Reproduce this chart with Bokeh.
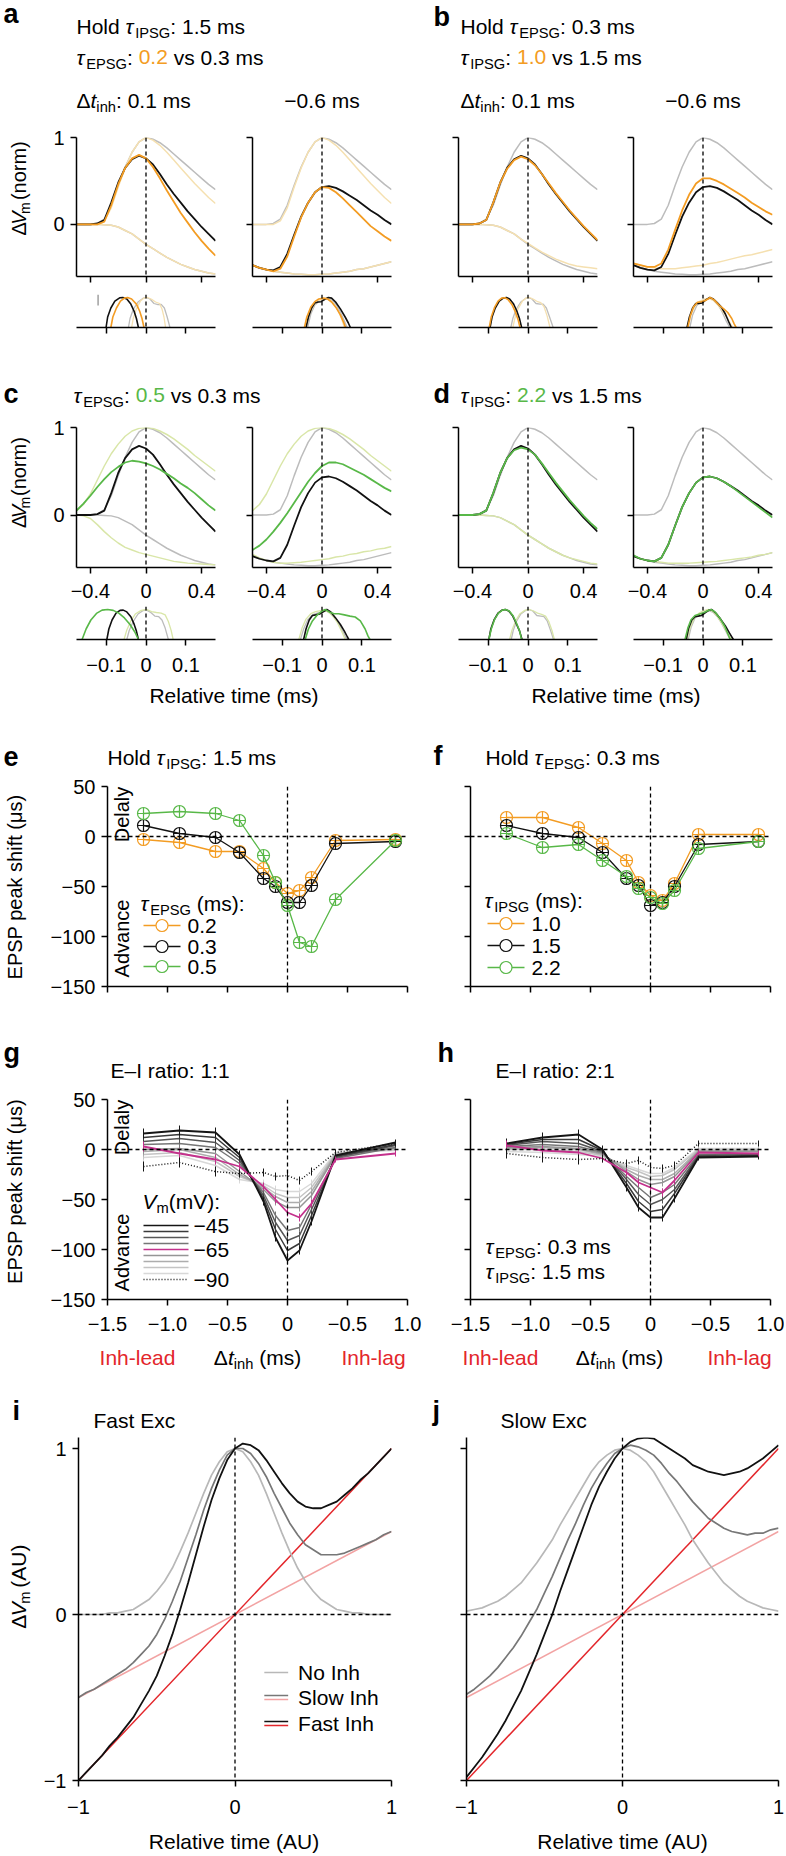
import math
from bokeh.plotting import figure
from bokeh.layouts import row, column
from bokeh.models import Range1d, FixedTicker, Span
from bokeh.core.properties import value
from bokeh.embed import file_html
from bokeh.resources import INLINE

FONT = "Liberation Sans"
TICK_FS = 20
LAB_FS = 21

ORANGE = "#f39c23"
PALE_ORANGE = "#f5e0b0"
GREEN = "#58b848"
PALE_GREEN = "#d9e6a8"
LGRAY = "#bcbcbc"
BLACK = "#111111"
RED = "#e3262b"
PINK = "#f2a3a3"
DGRAY = "#777777"
IGRAY = "#b8b8b8"

# ---------------- panels a-d : traces (relative time, ms) ----------------
T = [-0.5, -0.45, -0.4, -0.35, -0.3, -0.25, -0.2, -0.15, -0.1, -0.05, 0.0,
     0.05, 0.1, 0.15, 0.2, 0.25, 0.3, 0.35, 0.4, 0.45, 0.5]
EPSP_CTRL = [0.00, 0.00, 0.00, 0.01, 0.06, 0.22, 0.45, 0.66, 0.83, 0.95, 1.00, 0.98, 0.94, 0.88, 0.81, 0.74, 0.67, 0.60, 0.53, 0.46, 0.40]
EPSP_FAST = [0.00, 0.00, 0.00, 0.00, 0.04, 0.19, 0.43, 0.65, 0.83, 0.95, 1.00, 0.97, 0.91, 0.83, 0.74, 0.65, 0.56, 0.47, 0.39, 0.31, 0.24]
EPSP_SLOW = [0.05, 0.12, 0.24, 0.40, 0.56, 0.70, 0.81, 0.90, 0.96, 0.99, 1.00, 0.99, 0.96, 0.92, 0.87, 0.81, 0.75, 0.68, 0.62, 0.56, 0.50]
IPSP_NEAR = [0.00, 0.00, 0.00, 0.00, -0.005, -0.01, -0.03, -0.07, -0.11, -0.17, -0.23, -0.28, -0.33, -0.38, -0.42, -0.46, -0.49, -0.52, -0.54, -0.56, -0.57]
IPSP_EARLY = [-0.47, -0.50, -0.52, -0.54, -0.55, -0.56, -0.57, -0.575, -0.58, -0.58, -0.575, -0.57, -0.56, -0.55, -0.54, -0.52, -0.51, -0.49, -0.47, -0.45, -0.43]
BLACK_NEAR = [0.00, 0.00, 0.00, 0.01, 0.05, 0.25, 0.48, 0.65, 0.75, 0.79, 0.76, 0.69, 0.58, 0.46, 0.35, 0.25, 0.15, 0.06, -0.03, -0.11, -0.19]
BLACK_EARLY = [-0.47, -0.50, -0.52, -0.53, -0.49, -0.34, -0.12, 0.09, 0.25, 0.37, 0.43, 0.44, 0.42, 0.38, 0.33, 0.28, 0.22, 0.16, 0.11, 0.05, 0.00]
A_COMB_NEAR = [0.00, 0.00, 0.00, 0.00, 0.03, 0.22, 0.46, 0.65, 0.76, 0.80, 0.76, 0.66, 0.53, 0.39, 0.26, 0.13, 0.02, -0.09, -0.19, -0.28, -0.36]
A_COMB_EARLY = [-0.47, -0.50, -0.52, -0.54, -0.51, -0.37, -0.14, 0.08, 0.25, 0.37, 0.43, 0.42, 0.37, 0.30, 0.22, 0.14, 0.06, -0.02, -0.08, -0.14, -0.19]
B_IPSP_NEAR = [0.00, 0.00, 0.00, 0.00, -0.005, -0.01, -0.03, -0.07, -0.11, -0.17, -0.22, -0.27, -0.32, -0.36, -0.40, -0.43, -0.46, -0.48, -0.49, -0.50, -0.51]
B_IPSP_EARLY = [-0.45, -0.47, -0.49, -0.50, -0.51, -0.51, -0.51, -0.50, -0.49, -0.48, -0.47, -0.45, -0.44, -0.42, -0.40, -0.38, -0.36, -0.35, -0.33, -0.31, -0.29]
B_COMB_NEAR = [0.00, 0.00, 0.00, 0.01, 0.05, 0.25, 0.48, 0.64, 0.74, 0.78, 0.75, 0.68, 0.58, 0.47, 0.36, 0.26, 0.16, 0.07, -0.02, -0.10, -0.18]
B_COMB_EARLY = [-0.45, -0.47, -0.49, -0.49, -0.45, -0.29, -0.06, 0.16, 0.34, 0.47, 0.53, 0.53, 0.50, 0.46, 0.41, 0.36, 0.31, 0.25, 0.20, 0.15, 0.11]
C_IPSP_NEAR = [0.00, -0.01, -0.04, -0.11, -0.19, -0.26, -0.32, -0.37, -0.40, -0.43, -0.45, -0.47, -0.49, -0.51, -0.53, -0.54, -0.55, -0.555, -0.56, -0.565, -0.57]
C_IPSP_EARLY = [-0.45, -0.49, -0.52, -0.54, -0.55, -0.55, -0.545, -0.54, -0.53, -0.52, -0.51, -0.50, -0.48, -0.47, -0.45, -0.44, -0.42, -0.41, -0.39, -0.38, -0.36]
C_COMB_NEAR = [0.05, 0.13, 0.22, 0.32, 0.41, 0.49, 0.55, 0.60, 0.62, 0.61, 0.59, 0.56, 0.52, 0.47, 0.42, 0.36, 0.31, 0.25, 0.18, 0.11, 0.05]
C_COMB_EARLY = [-0.40, -0.35, -0.28, -0.19, -0.09, 0.02, 0.14, 0.26, 0.38, 0.48, 0.56, 0.60, 0.60, 0.58, 0.54, 0.50, 0.46, 0.41, 0.36, 0.31, 0.27]
D_IPSP_NEAR = [0.00, 0.00, 0.00, 0.00, -0.005, -0.01, -0.03, -0.07, -0.11, -0.17, -0.23, -0.28, -0.33, -0.38, -0.42, -0.46, -0.49, -0.51, -0.53, -0.55, -0.56]
D_IPSP_EARLY = [-0.47, -0.50, -0.52, -0.53, -0.54, -0.55, -0.55, -0.55, -0.55, -0.545, -0.54, -0.535, -0.53, -0.52, -0.51, -0.50, -0.49, -0.48, -0.46, -0.45, -0.43]
D_COMB_NEAR = [0.00, 0.00, 0.00, 0.01, 0.05, 0.25, 0.48, 0.65, 0.74, 0.77, 0.75, 0.69, 0.59, 0.48, 0.37, 0.27, 0.17, 0.08, -0.01, -0.09, -0.16]
D_COMB_EARLY = [-0.46, -0.50, -0.52, -0.53, -0.49, -0.34, -0.12, 0.09, 0.25, 0.37, 0.43, 0.44, 0.42, 0.38, 0.33, 0.27, 0.21, 0.15, 0.09, 0.03, -0.03]

# ---------------- peak-time distributions (small panels) ----------------
SA1_K_X = [-0.100, -0.096, -0.088, -0.078, -0.066, -0.058, -0.048, -0.038, -0.030, -0.024, -0.019]
SA1_K_Y = [0.0, 0.35, 0.65, 0.88, 0.99, 1.0, 0.95, 0.78, 0.55, 0.30, 0.0]
SA1_C_X = [-0.088, -0.083, -0.074, -0.064, -0.054, -0.046, -0.036, -0.024, -0.016, -0.010, -0.005]
SA1_C_Y = [0.0, 0.35, 0.65, 0.88, 0.98, 1.0, 0.95, 0.78, 0.55, 0.30, 0.0]
SA1_G_X = [-0.044, -0.040, -0.032, -0.020, -0.008, 0.000, 0.010, 0.020, 0.030, 0.038, 0.046, 0.053, 0.060]
SA1_G_Y = [0.0, 0.3, 0.6, 0.85, 0.97, 1.0, 0.95, 0.80, 0.76, 0.77, 0.65, 0.35, 0.0]
SA1_P_X = [-0.036, -0.032, -0.024, -0.014, -0.004, 0.004, 0.014, 0.024, 0.034, 0.040, 0.045, 0.049]
SA1_P_Y = [0.0, 0.3, 0.62, 0.88, 0.99, 1.0, 0.94, 0.85, 0.80, 0.62, 0.35, 0.0]
SA2_K_X = [-0.040, -0.034, -0.026, -0.018, -0.010, -0.002, 0.008, 0.016, 0.024, 0.034, 0.046, 0.058, 0.066, 0.071]
SA2_K_Y = [0.0, 0.35, 0.65, 0.82, 0.85, 0.86, 0.95, 1.0, 0.98, 0.85, 0.62, 0.35, 0.15, 0.0]
SA2_C_X = [-0.044, -0.038, -0.028, -0.018, -0.008, 0.004, 0.014, 0.024, 0.036, 0.046, 0.054, 0.059]
SA2_C_Y = [0.0, 0.35, 0.68, 0.86, 0.95, 0.98, 0.95, 0.85, 0.65, 0.42, 0.18, 0.0]
SA2_G_X = [-0.036, -0.028, -0.018, -0.008, 0.004, 0.016, 0.026, 0.036, 0.046, 0.056, 0.063]
SA2_G_Y = [0.0, 0.45, 0.75, 0.86, 0.92, 0.96, 0.90, 0.75, 0.52, 0.22, 0.0]
SA2_P_X = [-0.040, -0.032, -0.022, -0.010, 0.002, 0.012, 0.022, 0.032, 0.042, 0.050, 0.056]
SA2_P_Y = [0.0, 0.42, 0.72, 0.88, 0.96, 0.97, 0.90, 0.75, 0.52, 0.25, 0.0]
SB1_K_X = [-0.095, -0.090, -0.082, -0.072, -0.062, -0.054, -0.046, -0.036, -0.028, -0.021, -0.016]
SB1_K_Y = [0.0, 0.35, 0.65, 0.88, 0.98, 1.0, 0.95, 0.78, 0.55, 0.28, 0.0]
SB1_C_X = [-0.097, -0.092, -0.084, -0.075, -0.066, -0.058, -0.050, -0.040, -0.032, -0.025, -0.020]
SB1_C_Y = [0.0, 0.35, 0.66, 0.88, 0.98, 0.99, 0.93, 0.76, 0.53, 0.27, 0.0]
SB1_G_X = [-0.043, -0.038, -0.030, -0.018, -0.006, 0.000, 0.010, 0.020, 0.030, 0.038, 0.046, 0.054, 0.063]
SB1_G_Y = [0.0, 0.3, 0.6, 0.85, 0.97, 1.0, 0.95, 0.80, 0.78, 0.78, 0.65, 0.35, 0.0]
SB1_P_X = [-0.038, -0.033, -0.025, -0.014, -0.004, 0.004, 0.014, 0.024, 0.032, 0.040, 0.048, 0.055]
SB1_P_Y = [0.0, 0.3, 0.62, 0.88, 0.99, 1.0, 0.94, 0.86, 0.83, 0.70, 0.38, 0.0]
SB2_K_X = [-0.040, -0.034, -0.026, -0.018, -0.010, -0.002, 0.008, 0.017, 0.026, 0.036, 0.046, 0.056, 0.064, 0.071]
SB2_K_Y = [0.0, 0.35, 0.65, 0.80, 0.80, 0.82, 0.93, 1.0, 0.95, 0.82, 0.68, 0.45, 0.20, 0.0]
SB2_C_X = [-0.038, -0.032, -0.024, -0.014, -0.004, 0.006, 0.018, 0.028, 0.040, 0.052, 0.062, 0.072, 0.078, 0.083]
SB2_C_Y = [0.0, 0.38, 0.68, 0.84, 0.86, 0.90, 1.0, 0.92, 0.75, 0.62, 0.50, 0.30, 0.12, 0.0]
SB2_G_X = [-0.033, -0.026, -0.016, -0.006, 0.006, 0.017, 0.028, 0.038, 0.048, 0.058, 0.067]
SB2_G_Y = [0.0, 0.42, 0.72, 0.86, 0.92, 0.98, 0.90, 0.75, 0.52, 0.22, 0.0]
SB2_P_X = [-0.038, -0.030, -0.020, -0.008, 0.004, 0.014, 0.026, 0.038, 0.050, 0.062, 0.070, 0.075]
SB2_P_Y = [0.0, 0.42, 0.72, 0.88, 0.95, 0.96, 0.90, 0.74, 0.52, 0.30, 0.10, 0.0]
SC1_K_X = [-0.098, -0.093, -0.085, -0.075, -0.065, -0.057, -0.048, -0.038, -0.030, -0.024, -0.019]
SC1_K_Y = [0.0, 0.35, 0.65, 0.88, 0.97, 0.98, 0.92, 0.76, 0.52, 0.28, 0.0]
SC1_C_X = [-0.160, -0.150, -0.138, -0.124, -0.110, -0.096, -0.082, -0.068, -0.054, -0.040, -0.028, -0.019]
SC1_C_Y = [0.0, 0.35, 0.65, 0.87, 0.98, 1.0, 0.97, 0.88, 0.72, 0.50, 0.25, 0.0]
SC1_G_X = [-0.048, -0.042, -0.032, -0.020, -0.008, 0.002, 0.012, 0.022, 0.032, 0.040, 0.048, 0.056]
SC1_G_Y = [0.0, 0.3, 0.6, 0.85, 0.96, 0.98, 0.90, 0.78, 0.76, 0.65, 0.38, 0.0]
SC1_P_X = [-0.055, -0.048, -0.038, -0.026, -0.012, 0.002, 0.014, 0.026, 0.038, 0.048, 0.056, 0.063, 0.068]
SC1_P_Y = [0.0, 0.32, 0.62, 0.86, 0.97, 1.0, 0.93, 0.90, 0.88, 0.82, 0.60, 0.30, 0.0]
SC2_K_X = [-0.046, -0.040, -0.032, -0.024, -0.016, -0.006, 0.004, 0.012, 0.022, 0.034, 0.046, 0.056, 0.063, 0.067]
SC2_K_Y = [0.0, 0.35, 0.65, 0.80, 0.82, 0.85, 0.93, 1.0, 0.92, 0.72, 0.50, 0.28, 0.10, 0.0]
SC2_C_X = [-0.042, -0.034, -0.024, -0.012, 0.000, 0.008, 0.018, 0.030, 0.042, 0.056, 0.070, 0.083, 0.096, 0.108, 0.115, 0.120]
SC2_C_Y = [0.0, 0.35, 0.62, 0.82, 0.95, 1.0, 0.92, 0.86, 0.86, 0.82, 0.78, 0.75, 0.62, 0.35, 0.12, 0.0]
SC2_G_X = [-0.054, -0.046, -0.036, -0.024, -0.012, 0.000, 0.010, 0.020, 0.030, 0.042, 0.054, 0.062]
SC2_G_Y = [0.0, 0.35, 0.65, 0.82, 0.88, 0.92, 0.95, 0.88, 0.75, 0.52, 0.22, 0.0]
SC2_P_X = [-0.058, -0.050, -0.040, -0.028, -0.016, -0.004, 0.006, 0.016, 0.026, 0.038, 0.050, 0.058]
SC2_P_Y = [0.0, 0.38, 0.68, 0.86, 0.93, 0.96, 0.97, 0.92, 0.80, 0.58, 0.25, 0.0]
SD1_K_X = [-0.098, -0.093, -0.085, -0.075, -0.065, -0.057, -0.048, -0.038, -0.030, -0.021, -0.015]
SD1_K_Y = [0.0, 0.35, 0.65, 0.88, 0.98, 1.0, 0.95, 0.78, 0.55, 0.28, 0.0]
SD1_C_X = [-0.098, -0.092, -0.084, -0.074, -0.064, -0.056, -0.047, -0.037, -0.029, -0.021, -0.016]
SD1_C_Y = [0.0, 0.35, 0.66, 0.88, 0.98, 1.0, 0.95, 0.78, 0.55, 0.28, 0.0]
SD1_G_X = [-0.042, -0.037, -0.029, -0.018, -0.006, 0.002, 0.012, 0.022, 0.032, 0.040, 0.048, 0.056, 0.064]
SD1_G_Y = [0.0, 0.3, 0.6, 0.85, 0.97, 1.0, 0.95, 0.80, 0.78, 0.76, 0.62, 0.32, 0.0]
SD1_P_X = [-0.046, -0.040, -0.031, -0.020, -0.008, 0.004, 0.014, 0.024, 0.034, 0.044, 0.052, 0.060, 0.066]
SD1_P_Y = [0.0, 0.32, 0.62, 0.86, 0.97, 1.0, 0.95, 0.88, 0.84, 0.78, 0.60, 0.30, 0.0]
SD2_K_X = [-0.042, -0.036, -0.028, -0.020, -0.012, -0.004, 0.006, 0.015, 0.022, 0.032, 0.044, 0.056, 0.066, 0.076]
SD2_K_Y = [0.0, 0.38, 0.65, 0.76, 0.78, 0.80, 0.90, 0.98, 1.0, 0.88, 0.68, 0.45, 0.22, 0.0]
SD2_C_X = [-0.045, -0.038, -0.030, -0.020, -0.010, 0.000, 0.010, 0.020, 0.030, 0.042, 0.054, 0.062, 0.068]
SD2_C_Y = [0.0, 0.38, 0.66, 0.80, 0.84, 0.88, 0.95, 1.0, 0.92, 0.72, 0.45, 0.20, 0.0]
SD2_G_X = [-0.037, -0.030, -0.020, -0.008, 0.004, 0.016, 0.026, 0.036, 0.046, 0.056, 0.064, 0.070]
SD2_G_Y = [0.0, 0.40, 0.72, 0.86, 0.92, 0.95, 0.90, 0.76, 0.55, 0.30, 0.10, 0.0]
SD2_P_X = [-0.040, -0.032, -0.022, -0.010, 0.002, 0.014, 0.024, 0.034, 0.044, 0.054, 0.064, 0.072]
SD2_P_Y = [0.0, 0.40, 0.72, 0.88, 0.96, 1.0, 0.94, 0.80, 0.60, 0.38, 0.15, 0.0]
SCALEBAR_X = [-0.12, -0.12]
SCALEBAR_Y = [0.73, 1.1]

# ---------------- panels e-h : peak shift (us) vs delta t_inh (ms) ----------------
DT = [-1.2, -0.9, -0.6, -0.4, -0.2, -0.1, 0.0, 0.1, 0.2, 0.4, 0.9]
E_02 = [-3, -6, -15, -15, -32, -46, -57, -54, -41, -4, -3]
E_03 = [11, 3, -1, -16, -42, -50, -66, -66, -49, -7, -5]
E_05 = [23, 25, 23, 16, -19, -46, -69, -106, -110, -63, -4]
F_10 = [19, 19, 9, -7, -24, -46, -59, -64, -47, 2, 2]
F_15 = [11, 3, -1, -16, -42, -49, -69, -66, -50, -8, -5]
F_22 = [3, -11, -8, -24, -40, -52, -61, -67, -54, -12, -5]
E_LABELS = ["0.2", "0.3", "0.5"]
F_LABELS = ["1.0", "1.5", "2.2"]

VM_LEVELS = ["\u221245", "\u221250", "\u221255", "\u221260", "\u221265", "\u221270", "\u221275", "\u221280", "\u221285", "\u221290"]
VM_COLORS = ["#151515", "#3a3a3a", "#575757", "#767676", "#c4318c", "#959595", "#adadad", "#c4c4c4", "#d8d8d8", "#151515"]
G_45 = [16, 19, 17, -5, -52, -88, -111, -101, -72, -6, 7]
G_50 = [12, 15, 12, -8, -49, -80, -101, -94, -66, -7, 5]
G_55 = [8, 11, 7, -11, -46, -73, -91, -86, -60, -8, 4]
G_60 = [5, 6, 2, -14, -43, -66, -81, -78, -55, -9, 2]
G_65 = [3, -4, -10, -17, -37, -50, -63, -68, -54, -10, -4]
G_70 = [0, 1, -4, -22, -40, -52, -58, -58, -46, -6, 2]
G_75 = [-2, 0, -8, -25, -38, -47, -53, -53, -42, -5, 1]
G_80 = [-5, -3, -12, -27, -36, -44, -48, -48, -38, -4, 0]
G_85 = [-8, -6, -16, -30, -34, -40, -42, -42, -34, -3, -1]
G_90 = [-17, -13, -22, -24, -23, -27, -26, -31, -22, -3, 6]
H_45 = [6, 12, 15, 0, -38, -58, -68, -68, -49, -8, -7]
H_50 = [5, 10, 10, -1, -34, -52, -62, -60, -44, -7, -6]
H_55 = [4, 8, 6, -2, -30, -45, -55, -50, -40, -6, -5]
H_60 = [3, 5, 3, -3, -27, -38, -48, -43, -35, -5, -4]
H_65 = [4, -1, -3, -9, -23, -33, -38, -43, -31, -3, -4]
H_70 = [2, 3, 1, -4, -22, -30, -35, -33, -27, -2, -2]
H_75 = [1, 2, 0, -5, -20, -26, -30, -30, -24, -1, -1]
H_80 = [0, 0, -2, -6, -18, -22, -27, -26, -20, 0, 0]
H_85 = [-2, -3, -5, -7, -16, -20, -24, -24, -18, 1, 1]
H_90 = [-4, -8, -10, -9, -14, -11, -18, -19, -16, 6, 6]
ERR = [5, 5, 5, 4, 4, 4, 4, 4, 4, 3, 3]
DT_TICKS = [-1.5, -1.0, -0.5, 0, 0.5, 1.0]
DT_TICK_LABELS = ["\u22121.5", "\u22121.0", "\u22120.5", "0", "\u22120.5", "1.0"]
SHIFT_TICKS = [-150, -100, -50, 0, 50]
SHIFT_TICK_LABELS = ["\u2212150", "\u2212100", "\u221250", "0", "50"]

# ---------------- panels i-j : model (AU) ----------------
XI = [-1.0, -0.95, -0.9, -0.85, -0.8, -0.75, -0.7, -0.65, -0.6, -0.55, -0.5, -0.45, -0.4, -0.35, -0.3,
      -0.25, -0.2, -0.15, -0.1, -0.05, 0.0, 0.05, 0.1, 0.15, 0.2, 0.25, 0.3, 0.35, 0.4, 0.45, 0.5,
      0.55, 0.6, 0.65, 0.7, 0.75, 0.8, 0.85, 0.9, 0.95, 1.0]
NOINH_I = [0.00, 0.00, 0.00, 0.00, 0.01, 0.01, 0.02, 0.03, 0.06, 0.09, 0.14, 0.20, 0.28, 0.38, 0.49, 0.61, 0.73, 0.84, 0.92, 0.98, 1.00,
           0.98, 0.92, 0.84, 0.73, 0.61, 0.49, 0.38, 0.28, 0.20, 0.14, 0.09, 0.06, 0.03, 0.02, 0.01, 0.01, 0.00, 0.00, 0.00, 0.00]
SLOW_I = [-0.50, -0.47, -0.45, -0.42, -0.39, -0.36, -0.33, -0.29, -0.24, -0.19, -0.12, -0.03, 0.08, 0.20, 0.34, 0.48, 0.63, 0.76, 0.87, 0.96, 1.00,
          1.00, 0.97, 0.91, 0.83, 0.73, 0.64, 0.55, 0.48, 0.42, 0.39, 0.36, 0.36, 0.36, 0.37, 0.39, 0.41, 0.43, 0.45, 0.48, 0.50]
FAST_I = [-1.00, -0.95, -0.90, -0.85, -0.79, -0.74, -0.68, -0.62, -0.54, -0.46, -0.37, -0.25, -0.12, 0.03, 0.19, 0.36, 0.53, 0.69, 0.82, 0.93, 1.00,
          1.03, 1.02, 0.99, 0.93, 0.86, 0.79, 0.73, 0.68, 0.65, 0.64, 0.64, 0.66, 0.68, 0.72, 0.76, 0.81, 0.85, 0.90, 0.95, 1.00]
NOINH_J = [0.02, 0.03, 0.04, 0.06, 0.08, 0.11, 0.15, 0.19, 0.25, 0.31, 0.38, 0.45, 0.54, 0.62, 0.70, 0.78, 0.86, 0.92, 0.96, 0.99, 1.00,
           0.99, 0.96, 0.92, 0.86, 0.78, 0.70, 0.62, 0.54, 0.45, 0.38, 0.31, 0.25, 0.19, 0.15, 0.11, 0.08, 0.06, 0.04, 0.03, 0.02]
SLOW_J = [-0.48, -0.45, -0.41, -0.37, -0.32, -0.26, -0.20, -0.13, -0.05, 0.03, 0.13, 0.23, 0.34, 0.45, 0.55, 0.66, 0.76, 0.84, 0.91, 0.97, 1.00,
          1.02, 1.01, 0.99, 0.96, 0.91, 0.85, 0.80, 0.74, 0.68, 0.63, 0.58, 0.55, 0.52, 0.50, 0.49, 0.48, 0.49, 0.49, 0.51, 0.52]
FAST_J = [-0.98, -0.92, -0.86, -0.79, -0.72, -0.64, -0.55, -0.46, -0.35, -0.24, -0.12, 0.00, 0.14, 0.27, 0.40, 0.53, 0.66, 0.77, 0.86, 0.94, 1.00,
          1.04, 1.06, 1.065, 1.06, 1.03, 1.00, 0.97, 0.94, 0.90, 0.88, 0.86, 0.85, 0.84, 0.85, 0.86, 0.88, 0.91, 0.94, 0.98, 1.02]
INH_X = [-1.0, 1.0]
SLOW_INH = [-0.5, 0.5]
FAST_INH = [-1.0, 1.0]
AU_TICKS = [-1, 0, 1]
AU_TICK_LABELS = ["\u22121", "0", "1"]
LEG_I = ["No Inh", "Slow Inh", "Fast Inh"]

# ---------------- helpers ----------------
W = {' ': 278, '(': 333, ')': 333, '-': 333, '.': 278, ':': 278, ',': 278,
     'A': 667, 'B': 667, 'C': 722, 'D': 722, 'E': 667, 'F': 611, 'G': 778, 'H': 722, 'I': 278, 'J': 500,
     'K': 667, 'L': 556, 'M': 833, 'N': 722, 'O': 778, 'P': 667, 'Q': 778, 'R': 722, 'S': 667, 'T': 611,
     'U': 722, 'V': 667, 'W': 944, 'X': 667, 'Y': 667, 'Z': 611,
     'a': 556, 'b': 556, 'c': 500, 'd': 556, 'e': 556, 'f': 278, 'g': 556, 'h': 556, 'i': 222, 'j': 222,
     'k': 500, 'l': 222, 'm': 833, 'n': 556, 'o': 556, 'p': 556, 'q': 556, 'r': 333, 's': 500, 't': 278,
     'u': 556, 'v': 500, 'w': 722, 'x': 500, 'y': 500, 'z': 500,
     '\u2212': 584, '\u2013': 556, '\u0394': 668, '\u03c4': 460, '\u03bc': 576}

FIXED = dict(sizing_mode="fixed")
ROT = math.pi / 2


def tw(s, fs):
    return sum(W.get(ch, 556) for ch in s) * fs / 1000.0


def P(s, kind="n", col=None):
    return (s, kind, col)


def canvas(x0, x1, y0, y1):
    p = figure(width=x1 - x0, height=y1 - y0, x_range=Range1d(x0, x1), y_range=Range1d(-y1, -y0),
               output_backend="svg", toolbar_location=None, title=None,
               x_axis_location=None, y_axis_location=None,
               min_border_left=0, min_border_right=0, min_border_top=0, min_border_bottom=0, **FIXED)
    p.outline_line_color = None
    p.grid.visible = False
    return p, (lambda r: r), (lambda r: -r)


def pfig(x0, x1, y0, y1, fx0, fx1, fy0, fy1, xr, yr, xaxis=True, yaxis=True):
    p = figure(width=x1 - x0, height=y1 - y0, x_range=Range1d(*xr), y_range=Range1d(*yr),
               output_backend="svg", toolbar_location=None, title=None,
               x_axis_location="below" if xaxis else None,
               y_axis_location="left" if yaxis else None,
               min_border_left=fx0 - x0, min_border_right=x1 - fx1,
               min_border_top=fy0 - y0, min_border_bottom=y1 - fy1, **FIXED)
    p.outline_line_color = None
    p.grid.visible = False

    def mx(r):
        return xr[0] + (r - fx0) / (fx1 - fx0) * (xr[1] - xr[0])

    def my(r):
        return yr[1] - (r - fy0) / (fy1 - fy0) * (yr[1] - yr[0])
    return p, mx, my


def put(p, mx, my, rx, ry, s, fs=LAB_FS, color="black", align="left", base=True, angle=0.0, style="normal"):
    # rx, ry are page pixels; with base=True, ry (or rx when rotated) is the text baseline
    if base:
        if angle == 0:
            ry = ry - 0.35 * fs
        else:
            rx = rx - 0.35 * fs
    p.text(x=[mx(rx)], y=[my(ry)], text=[s], angle=angle, text_font=value(FONT),
           text_font_size=value("%.1fpx" % fs), text_color=color, text_align=align,
           text_baseline="middle", text_font_style=style)


def rich(p, mx, my, x, y, pieces, fs=LAB_FS, align="left", angle=0.0):
    sizes = [fs * 0.7 if k == "sub" else fs for (s, k, c) in pieces]
    total = sum(tw(s, f) for (s, k, c), f in zip(pieces, sizes))
    pos = {"left": 0.0, "center": -total / 2.0, "right": -total}[align]
    for (s, k, c), f in zip(pieces, sizes):
        lead = len(s) - len(s.lstrip(" "))
        core = s.strip(" ")
        start = pos + tw(" " * lead, f)
        drop = fs * 0.24 if k == "sub" else 0.0
        if angle == 0:
            rx, ry = x + start, y + drop
        else:
            rx, ry = x + drop, y - start
        style = {"it": "italic", "b": "bold"}.get(k, "normal")
        if core:
            put(p, mx, my, rx, ry, core, fs=f, color=c or "black", angle=angle, style=style)
        pos += tw(s, f)


def style_axis(ax, ticks, labels=None, standoff=11):
    ax.ticker = FixedTicker(ticks=ticks)
    ax.axis_line_width = 1.5
    ax.axis_line_color = "black"
    ax.major_tick_line_width = 1.5
    ax.major_tick_line_color = "black"
    ax.major_tick_out = 6
    ax.major_tick_in = 0
    ax.minor_tick_line_color = None
    ax.major_label_text_font = FONT
    if labels is None:
        ax.major_label_text_font_size = "0px"
        ax.major_label_standoff = 0
        ax.major_label_text_color = None
    else:
        ax.major_label_text_font_size = "%dpx" % TICK_FS
        ax.major_label_standoff = standoff
        ax.major_label_text_color = "black"
        ax.major_label_overrides = dict(zip(ticks, labels))


def vdash(p):
    p.add_layout(Span(location=0, dimension="height", line_color="black", line_dash="4 3", line_width=1.3))


def hdash(p):
    p.add_layout(Span(location=0, dimension="width", line_color="black", line_dash="4 3", line_width=1.3))


def main_panel(x0, x1, fx0, fx1, y0, y1, fy0, fy1, light, heavy, ylab):
    p, mx, my = pfig(x0, x1, y0, y1, fx0, fx1, fy0, fy1, (-0.5, 0.5), (-0.6, 1.0))
    style_axis(p.xaxis, [-0.4, 0, 0.4], ["\u22120.4", "0", "0.4"] if ylab in ("c", "d") else None, standoff=10)
    style_axis(p.yaxis, [0, 1], ["0", "1"] if ylab in ("a", "c") else None, standoff=6)
    for ys, col in light:
        p.line(T, ys, line_color=col, line_width=1.5)
    vdash(p)
    for ys, col in heavy:
        p.line(T, ys, line_color=col, line_width=1.8)
    return p


def sub_panel(x0, x1, fx0, fx1, y0, y1, fy0, fy1, domes, labels):
    p, mx, my = pfig(x0, x1, y0, y1, fx0, fx1, fy0, fy1, (-0.174, 0.174), (0, 1.1), yaxis=False)
    style_axis(p.xaxis, [-0.1, 0, 0.1], ["\u22120.1", "0", "0.1"] if labels else None, standoff=12)
    vdash(p)
    for xs, ys, col, lw in domes:
        p.line(xs, ys, line_color=col, line_width=lw)
    return p


def domes(gx, gy, px, py, cx, cy, kx, ky, pale, col):
    return [(gx, gy, LGRAY, 1.3), (px, py, pale, 1.3), (kx, ky, BLACK, 1.6), (cx, cy, col, 1.6)]


def hrow(*kids):
    return row(*kids, spacing=0, **FIXED)


XR = 784  # right edge of the layout
A_TOP = 122   # top of the a/b trace strip
C_TOP = 413   # top of the c/d trace strip

# ---------------- strip 1 : a/b headers ----------------
c1, m1x, m1y = canvas(0, XR, 0, A_TOP)
put(c1, m1x, m1y, 3, 23, "a", fs=27, style="bold")
rich(c1, m1x, m1y, 76, 33, [P("Hold "), P("\u03c4", "it"), P("IPSG", "sub"), P(": 1.5 ms")])
rich(c1, m1x, m1y, 76, 64, [P("\u03c4", "it"), P("EPSG", "sub"), P(": "), P("0.2", "n", ORANGE), P(" vs 0.3 ms")])
rich(c1, m1x, m1y, 76, 107, [P("\u0394"), P("t", "it"), P("inh", "sub"), P(": 0.1 ms")])
rich(c1, m1x, m1y, 321.5, 107, [P("\u22120.6 ms")], align="center")
put(c1, m1x, m1y, 433, 26, "b", fs=27, style="bold")
rich(c1, m1x, m1y, 460, 33, [P("Hold "), P("\u03c4", "it"), P("EPSG", "sub"), P(": 0.3 ms")])
rich(c1, m1x, m1y, 460, 64, [P("\u03c4", "it"), P("IPSG", "sub"), P(": "), P("1.0", "n", ORANGE), P(" vs 1.5 ms")])
rich(c1, m1x, m1y, 460, 107, [P("\u0394"), P("t", "it"), P("inh", "sub"), P(": 0.1 ms")])
rich(c1, m1x, m1y, 702.5, 107, [P("\u22120.6 ms")], align="center")

# ---------------- strip 2 : a/b main ----------------
yl2, q2x, q2y = canvas(0, 40, A_TOP, 294)
rich(yl2, q2x, q2y, 25, 192, [P("\u0394"), P("V", "it"), P("m", "sub"), P(" (norm)")], fs=20, align="center", angle=ROT)
pa1 = main_panel(40, 235, 76, 215, A_TOP, 294, 137, 276,
                 [(EPSP_CTRL, LGRAY), (EPSP_FAST, PALE_ORANGE), (IPSP_NEAR, LGRAY), (IPSP_NEAR, PALE_ORANGE)],
                 [(BLACK_NEAR, BLACK), (A_COMB_NEAR, ORANGE)], "a")
pa2 = main_panel(235, 400, 252, 391, A_TOP, 294, 137, 276,
                 [(EPSP_CTRL, LGRAY), (EPSP_FAST, PALE_ORANGE), (IPSP_EARLY, LGRAY), (IPSP_EARLY, PALE_ORANGE)],
                 [(BLACK_EARLY, BLACK), (A_COMB_EARLY, ORANGE)], None)
pb1 = main_panel(400, 615, 458, 597, A_TOP, 294, 137, 276,
                 [(EPSP_CTRL, LGRAY), (IPSP_NEAR, LGRAY), (B_IPSP_NEAR, PALE_ORANGE)],
                 [(BLACK_NEAR, BLACK), (B_COMB_NEAR, ORANGE)], None)
pb2 = main_panel(615, XR, 633, 772, A_TOP, 294, 137, 276,
                 [(EPSP_CTRL, LGRAY), (IPSP_EARLY, LGRAY), (B_IPSP_EARLY, PALE_ORANGE)],
                 [(BLACK_EARLY, BLACK), (B_COMB_EARLY, ORANGE)], None)
s2 = hrow(yl2, pa1, pa2, pb1, pb2)

# ---------------- strip 3 : a/b peak distributions ----------------
sa1 = sub_panel(0, 235, 76, 215, 294, 345, 294, 327,
                domes(SA1_G_X, SA1_G_Y, SA1_P_X, SA1_P_Y, SA1_C_X, SA1_C_Y, SA1_K_X, SA1_K_Y, PALE_ORANGE, ORANGE), False)
sa1.line(SCALEBAR_X, SCALEBAR_Y, line_color="#888888", line_width=1.2)
sa2 = sub_panel(235, 400, 252, 391, 294, 345, 294, 327,
                domes(SA2_G_X, SA2_G_Y, SA2_P_X, SA2_P_Y, SA2_C_X, SA2_C_Y, SA2_K_X, SA2_K_Y, PALE_ORANGE, ORANGE), False)
sb1 = sub_panel(400, 615, 458, 597, 294, 345, 294, 327,
                domes(SB1_G_X, SB1_G_Y, SB1_P_X, SB1_P_Y, SB1_C_X, SB1_C_Y, SB1_K_X, SB1_K_Y, PALE_ORANGE, ORANGE), False)
sb2 = sub_panel(615, XR, 633, 772, 294, 345, 294, 327,
                domes(SB2_G_X, SB2_G_Y, SB2_P_X, SB2_P_Y, SB2_C_X, SB2_C_Y, SB2_K_X, SB2_K_Y, PALE_ORANGE, ORANGE), False)
s3 = hrow(sa1, sa2, sb1, sb2)

# ---------------- strip 4 : c/d headers ----------------
c4, m4x, m4y = canvas(0, XR, 345, C_TOP)
put(c4, m4x, m4y, 3, 403, "c", fs=27, style="bold")
rich(c4, m4x, m4y, 73, 402, [P("\u03c4", "it"), P("EPSG", "sub"), P(": "), P("0.5", "n", GREEN), P(" vs 0.3 ms")])
put(c4, m4x, m4y, 433, 403, "d", fs=27, style="bold")
rich(c4, m4x, m4y, 460, 402, [P("\u03c4", "it"), P("IPSG", "sub"), P(": "), P("2.2", "n", GREEN), P(" vs 1.5 ms")])

# ---------------- strip 5 : c/d main ----------------
yl5, q5x, q5y = canvas(0, 40, C_TOP, 606)
rich(yl5, q5x, q5y, 25, 500, [P("\u0394"), P("V", "it"), P("m", "sub"), P(" (norm)")], fs=20, align="center", angle=ROT)
pc1 = main_panel(40, 235, 76, 215, C_TOP, 606, 427, 567,
                 [(EPSP_CTRL, LGRAY), (EPSP_SLOW, PALE_GREEN), (IPSP_NEAR, LGRAY), (C_IPSP_NEAR, PALE_GREEN)],
                 [(BLACK_NEAR, BLACK), (C_COMB_NEAR, GREEN)], "c")
pc2 = main_panel(235, 400, 252, 391, C_TOP, 606, 427, 567,
                 [(EPSP_CTRL, LGRAY), (EPSP_SLOW, PALE_GREEN), (IPSP_EARLY, LGRAY), (C_IPSP_EARLY, PALE_GREEN)],
                 [(BLACK_EARLY, BLACK), (C_COMB_EARLY, GREEN)], "d")
pd1 = main_panel(400, 615, 458, 597, C_TOP, 606, 427, 567,
                 [(EPSP_CTRL, LGRAY), (IPSP_NEAR, LGRAY), (D_IPSP_NEAR, PALE_GREEN)],
                 [(BLACK_NEAR, BLACK), (D_COMB_NEAR, GREEN)], "d")
pd2 = main_panel(615, XR, 633, 772, C_TOP, 606, 427, 567,
                 [(EPSP_CTRL, LGRAY), (IPSP_EARLY, LGRAY), (D_IPSP_EARLY, PALE_GREEN)],
                 [(BLACK_EARLY, BLACK), (D_COMB_EARLY, GREEN)], "d")
s5 = hrow(yl5, pc1, pc2, pd1, pd2)

# ---------------- strip 6 : c/d peak distributions ----------------
sc1 = sub_panel(0, 235, 76, 215, 606, 680, 606, 639,
                domes(SC1_G_X, SC1_G_Y, SC1_P_X, SC1_P_Y, SC1_C_X, SC1_C_Y, SC1_K_X, SC1_K_Y, PALE_GREEN, GREEN), True)
sc2 = sub_panel(235, 400, 252, 391, 606, 680, 606, 639,
                domes(SC2_G_X, SC2_G_Y, SC2_P_X, SC2_P_Y, SC2_C_X, SC2_C_Y, SC2_K_X, SC2_K_Y, PALE_GREEN, GREEN), True)
sd1 = sub_panel(400, 615, 458, 597, 606, 680, 606, 639,
                domes(SD1_G_X, SD1_G_Y, SD1_P_X, SD1_P_Y, SD1_C_X, SD1_C_Y, SD1_K_X, SD1_K_Y, PALE_GREEN, GREEN), True)
sd2 = sub_panel(615, XR, 633, 772, 606, 680, 606, 639,
                domes(SD2_G_X, SD2_G_Y, SD2_P_X, SD2_P_Y, SD2_C_X, SD2_C_Y, SD2_K_X, SD2_K_Y, PALE_GREEN, GREEN), True)
s6 = hrow(sc1, sc2, sd1, sd2)

# ---------------- strip 7 : x labels + e/f headers ----------------
c7, m7x, m7y = canvas(0, XR, 680, 775)
put(c7, m7x, m7y, 233.5, 702, "Relative time (ms)", align="center")
put(c7, m7x, m7y, 615.5, 702, "Relative time (ms)", align="center")
put(c7, m7x, m7y, 3, 765, "e", fs=27, style="bold")
rich(c7, m7x, m7y, 107, 764, [P("Hold "), P("\u03c4", "it"), P("IPSG", "sub"), P(": 1.5 ms")])
put(c7, m7x, m7y, 433, 765, "f", fs=27, style="bold")
rich(c7, m7x, m7y, 485, 764, [P("Hold "), P("\u03c4", "it"), P("EPSG", "sub"), P(": 0.3 ms")])


def ef_panel(x0, x1, fx0, fx1, series, ylab, leg_title, leg_labels, lx, ty, rows_y):
    p, mx, my = pfig(x0, x1, 775, 1000, fx0, fx1, 786, 986, (-1.5, 1.0), (-150, 50))
    style_axis(p.xaxis, DT_TICKS)
    style_axis(p.yaxis, SHIFT_TICKS, SHIFT_TICK_LABELS if ylab else None, standoff=6)
    vdash(p)
    hdash(p)
    for ys, col in series:
        p.line(DT, ys, line_color=col, line_width=1.3)
        p.scatter(DT, ys, marker="circle_cross", size=12, line_color=col, fill_color=None, line_width=1.2)
    if ylab:
        put(p, mx, my, 121, 814, "Delaly", fs=20, align="center", base=False, angle=ROT)
        put(p, mx, my, 121, 938, "Advance", fs=20, align="center", base=False, angle=ROT)
    rich(p, mx, my, lx - 3, ty, leg_title)
    for lab, (ys, col), yc in zip(leg_labels, series, rows_y):
        yy = my(yc)
        p.line([mx(lx), mx(lx + 37)], [yy, yy], line_color=col, line_width=1.3)
        p.scatter([mx(lx + 18.5)], [yy], marker="circle", size=12, line_color=col, fill_color="white", line_width=1.2)
        put(p, mx, my, lx + 44, yc, lab, fs=LAB_FS, base=False)
    return p


# ---------------- strip 8 : e/f ----------------
yl8, q8x, q8y = canvas(0, 40, 775, 1000)
put(yl8, q8x, q8y, 14, 888, "EPSP peak shift (\u03bcs)", fs=20, align="center", base=False, angle=ROT)
pe = ef_panel(40, 424, 107, 407, [(E_02, ORANGE), (E_03, BLACK), (E_05, GREEN)], True,
              [P("\u03c4", "it"), P("EPSG", "sub"), P(" (ms):")], E_LABELS, 143, 910, [925, 946, 966])
pf = ef_panel(424, XR, 470, 770, [(F_10, ORANGE), (F_15, BLACK), (F_22, GREEN)], False,
              [P("\u03c4", "it"), P("IPSG", "sub"), P(" (ms):")], F_LABELS, 487, 907, [923, 945, 967])
s8 = hrow(yl8, pe, pf)

# ---------------- strip 9 : g/h headers ----------------
c9, m9x, m9y = canvas(0, XR, 1000, 1090)
put(c9, m9x, m9y, 3, 1062, "g", fs=27, style="bold")
put(c9, m9x, m9y, 110, 1077, "E\u2013I ratio: 1:1")
put(c9, m9x, m9y, 437, 1062, "h", fs=27, style="bold")
put(c9, m9x, m9y, 495, 1077, "E\u2013I ratio: 2:1")


def gh_panel(x0, x1, fx0, fx1, series, ylab):
    p, mx, my = pfig(x0, x1, 1090, 1340, fx0, fx1, 1099, 1299, (-1.5, 1.0), (-150, 50))
    style_axis(p.xaxis, DT_TICKS, DT_TICK_LABELS, standoff=11)
    style_axis(p.yaxis, SHIFT_TICKS, SHIFT_TICK_LABELS if ylab else None, standoff=6)
    vdash(p)
    hdash(p)
    for idx in [8, 7, 6, 5, 3, 2, 1, 0, 4, 9]:
        ys = series[idx]
        col = VM_COLORS[idx]
        dash = "1 2" if idx == 9 else "solid"
        lw = 1.8 if idx in (0, 4) else 1.5
        p.line(DT, ys, line_color=col, line_width=lw, line_dash=dash)
        p.segment(x0=DT, y0=[v - e for v, e in zip(ys, ERR)], x1=DT, y1=[v + e for v, e in zip(ys, ERR)],
                  line_color=col, line_width=1.0)
    return p, mx, my


# ---------------- strip 10 : g/h ----------------
yl10, q10x, q10y = canvas(0, 40, 1090, 1340)
put(yl10, q10x, q10y, 14, 1205, "EPSP peak shift (\u03bcs)", fs=20, align="center", base=False, angle=ROT)
pg, gmx, gmy = gh_panel(40, 424, 107, 407, [G_45, G_50, G_55, G_60, G_65, G_70, G_75, G_80, G_85, G_90], True)
put(pg, gmx, gmy, 121, 1127, "Delaly", fs=20, align="center", base=False, angle=ROT)
put(pg, gmx, gmy, 121, 1252, "Advance", fs=20, align="center", base=False, angle=ROT)
rich(pg, gmx, gmy, 142, 1208, [P("V", "it"), P("m", "sub"), P("(mV):")])
for k, col in enumerate(VM_COLORS):
    yy = gmy(1225 + 6 * k)
    pg.line([gmx(143), gmx(188)], [yy, yy], line_color=col, line_width=1.5,
            line_dash="1 2" if k == 9 else "solid")
for k in (0, 4, 9):
    put(pg, gmx, gmy, 193, 1225 + 6 * k, VM_LEVELS[k], fs=LAB_FS, base=False)
ph, hmx, hmy = gh_panel(424, XR, 470, 770, [H_45, H_50, H_55, H_60, H_65, H_70, H_75, H_80, H_85, H_90], False)
rich(ph, hmx, hmy, 485, 1253, [P("\u03c4", "it"), P("EPSG", "sub"), P(": 0.3 ms")])
rich(ph, hmx, hmy, 485, 1278, [P("\u03c4", "it"), P("IPSG", "sub"), P(": 1.5 ms")])
s10 = hrow(yl10, pg, ph)

# ---------------- strip 11 : g/h x labels, i/j headers ----------------
c11, m11x, m11y = canvas(0, XR, 1340, 1437)
put(c11, m11x, m11y, 137, 1364, "Inh-lead", color=RED, align="center")
rich(c11, m11x, m11y, 257, 1364, [P("\u0394"), P("t", "it"), P("inh", "sub"), P(" (ms)")], align="center")
put(c11, m11x, m11y, 373, 1364, "Inh-lag", color=RED, align="center")
put(c11, m11x, m11y, 500, 1364, "Inh-lead", color=RED, align="center")
rich(c11, m11x, m11y, 619, 1364, [P("\u0394"), P("t", "it"), P("inh", "sub"), P(" (ms)")], align="center")
put(c11, m11x, m11y, 739, 1364, "Inh-lag", color=RED, align="center")
put(c11, m11x, m11y, 12, 1420, "i", fs=27, style="bold")
put(c11, m11x, m11y, 93, 1427, "Fast Exc")
put(c11, m11x, m11y, 432, 1420, "j", fs=27, style="bold")
put(c11, m11x, m11y, 500, 1427, "Slow Exc")

IJ_TOP = 1437
IJ_YMAX = 1.0 + (1448.0 - IJ_TOP) / 166.0


def ij_panel(x0, x1, fx0, fx1, noinh, slow, fast, ylab):
    p, mx, my = pfig(x0, x1, IJ_TOP, 1822, fx0, fx1, IJ_TOP, 1780, (-1.0, 1.0), (-1.0, IJ_YMAX))
    style_axis(p.xaxis, AU_TICKS, AU_TICK_LABELS, standoff=13)
    style_axis(p.yaxis, AU_TICKS, AU_TICK_LABELS if ylab else None, standoff=6)
    vdash(p)
    hdash(p)
    p.line(INH_X, SLOW_INH, line_color=PINK, line_width=1.5)
    p.line(INH_X, FAST_INH, line_color=RED, line_width=1.5)
    p.line(XI, noinh, line_color=IGRAY, line_width=1.7)
    p.line(XI, slow, line_color=DGRAY, line_width=1.7)
    p.line(XI, fast, line_color=BLACK, line_width=1.8)
    return p, mx, my


# ---------------- strip 12 : i/j ----------------
yl12, q12x, q12y = canvas(0, 40, IJ_TOP, 1822)
rich(yl12, q12x, q12y, 25, 1607, [P("\u0394"), P("V", "it"), P("m", "sub"), P(" (AU)")], align="center", angle=ROT)
pi_, imx, imy = ij_panel(40, 400, 76, 391, NOINH_I, SLOW_I, FAST_I, True)
leg_rows = [(1672, [(IGRAY, 0)]), (1697, [(DGRAY, -2), (PINK, 2)]), (1723, [(BLACK, -2), (RED, 2)])]
for lab, (yc, lines) in zip(LEG_I, leg_rows):
    for col, off in lines:
        yy = imy(yc + off)
        pi_.line([imx(263), imx(287)], [yy, yy], line_color=col, line_width=1.7)
    put(pi_, imx, imy, 297, yc, lab, fs=LAB_FS, base=False)
pj, jmx, jmy = ij_panel(400, XR, 466, 778, NOINH_J, SLOW_J, FAST_J, False)
s12 = hrow(yl12, pi_, pj)

# ---------------- strip 13 : i/j x labels ----------------
c13, m13x, m13y = canvas(0, XR, 1822, 1854)
put(c13, m13x, m13y, 233.5, 1848, "Relative time (AU)", align="center")
put(c13, m13x, m13y, 622, 1848, "Relative time (AU)", align="center")

layout = column(c1, s2, s3, c4, s5, s6, c7, s8, c9, s10, c11, s12, c13, spacing=0, **FIXED)

open("out.html", "w").write(file_html(layout, INLINE))
